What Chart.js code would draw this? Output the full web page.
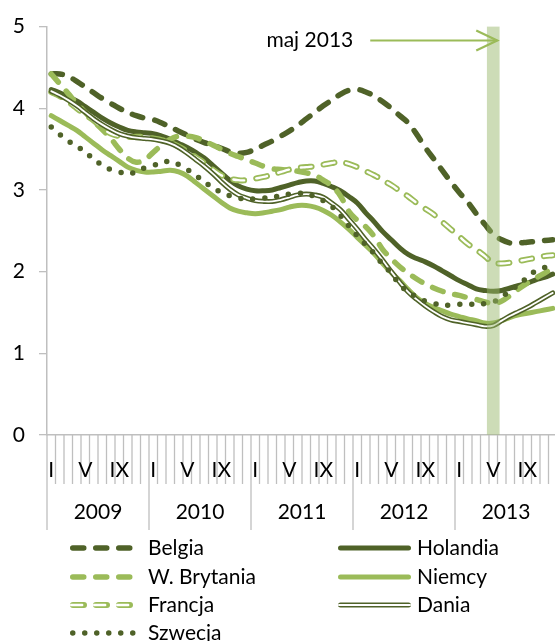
<!DOCTYPE html>
<html><head><meta charset="utf-8">
<script src="https://cdn.jsdelivr.net/npm/chart.js@4.4.0/dist/chart.umd.min.js"></script>
<style>html,body{margin:0;padding:0;background:#fff;overflow:hidden;} #wrap{width:557px;height:641px;}</style>
</head><body><div id="wrap"><canvas id="c" width="557" height="641"></canvas></div>
<script>
const years = ['2009','2010','2011','2012','2013'];
const monthTicks = ['I','','','','V','','','','IX','','',''];
const categories = [];
years.forEach(y => monthTicks.forEach((m, k) => categories.push(y + '-' + (k + 1))));

const belgia = [4.42,4.42,4.39,4.33,4.26,4.19,4.12,4.06,4.00,3.95,3.91,3.88,
  3.86,3.82,3.77,3.72,3.67,3.62,3.58,3.55,3.51,3.47,3.45,3.46,
  3.50,3.55,3.60,3.66,3.72,3.79,3.87,3.95,4.03,4.10,4.17,4.22,
  4.23,4.20,4.15,4.08,4.00,3.91,3.82,3.68,3.52,3.38,3.24,3.10,
  2.97,2.85,2.71,2.58,2.46,2.39,2.35,2.35,2.36,2.37,2.38,2.39];
const holandia = [4.23,4.19,4.14,4.09,4.02,3.95,3.88,3.82,3.77,3.73,3.71,3.70,
  3.69,3.66,3.62,3.57,3.52,3.46,3.39,3.30,3.21,3.12,3.05,3.01,
  2.99,2.99,3.00,3.03,3.06,3.09,3.11,3.11,3.08,3.04,2.99,2.92,
  2.84,2.72,2.61,2.49,2.39,2.29,2.21,2.16,2.12,2.07,2.01,1.95,
  1.89,1.84,1.79,1.77,1.76,1.77,1.80,1.83,1.86,1.90,1.93,1.97];
const wBrytania = [4.42,4.30,4.18,4.06,3.95,3.84,3.74,3.63,3.50,3.39,3.34,3.37,
  3.46,3.55,3.62,3.66,3.66,3.64,3.60,3.55,3.50,3.45,3.41,3.37,
  3.33,3.29,3.26,3.25,3.24,3.23,3.21,3.18,3.12,3.05,2.93,2.74,
  2.63,2.55,2.43,2.27,2.16,2.06,1.98,1.91,1.85,1.80,1.76,1.73,
  1.71,1.68,1.66,1.63,1.61,1.64,1.71,1.79,1.86,1.92,1.98,2.04];
const niemcy = [3.91,3.85,3.79,3.73,3.65,3.57,3.49,3.42,3.35,3.28,3.24,3.22,
  3.22,3.23,3.24,3.22,3.17,3.09,3.01,2.93,2.85,2.78,2.74,2.72,
  2.71,2.72,2.74,2.76,2.79,2.81,2.81,2.79,2.75,2.69,2.61,2.52,
  2.42,2.32,2.22,2.10,1.99,1.89,1.78,1.68,1.61,1.56,1.52,1.48,
  1.45,1.42,1.40,1.37,1.37,1.40,1.44,1.47,1.49,1.51,1.53,1.55];
const francja = [4.20,4.15,4.08,4.00,3.92,3.85,3.76,3.69,3.66,3.65,3.65,3.65,
  3.63,3.61,3.58,3.53,3.47,3.40,3.33,3.25,3.18,3.14,3.12,3.12,
  3.14,3.16,3.19,3.22,3.25,3.27,3.28,3.29,3.31,3.33,3.34,3.32,
  3.28,3.23,3.18,3.12,3.06,2.99,2.92,2.84,2.77,2.70,2.61,2.52,
  2.43,2.34,2.27,2.19,2.11,2.10,2.11,2.13,2.15,2.17,2.19,2.20];
const dania = [4.21,4.16,4.10,4.03,3.95,3.87,3.80,3.74,3.69,3.66,3.64,3.63,
  3.62,3.60,3.57,3.52,3.45,3.37,3.29,3.20,3.10,3.01,2.94,2.90,
  2.87,2.86,2.86,2.88,2.91,2.94,2.95,2.94,2.91,2.84,2.76,2.64,
  2.52,2.39,2.27,2.14,2.00,1.87,1.75,1.66,1.58,1.51,1.45,1.41,
  1.39,1.37,1.35,1.33,1.34,1.40,1.46,1.51,1.56,1.62,1.68,1.74];
const szwecja = [3.77,3.68,3.60,3.54,3.46,3.38,3.30,3.25,3.22,3.20,3.22,3.27,
  3.30,3.33,3.35,3.31,3.25,3.18,3.10,3.03,2.97,2.93,2.90,2.89,
  2.89,2.90,2.91,2.93,2.95,2.96,2.95,2.92,2.87,2.80,2.69,2.56,
  2.44,2.33,2.22,2.09,1.98,1.84,1.75,1.69,1.64,1.61,1.59,1.59,
  1.60,1.60,1.60,1.61,1.63,1.69,1.77,1.84,1.93,2.01,2.05,2.08];
const markerMonth = '2013-5';
const markerValue = 5;
const markerLabel = 'maj 2013';
const arrowValue = 4.83;

const DARK = '#4f6228', LIGHT = '#9bbb59', GRAY = '#bfbfbf';
const FONT = 'Lato, "Open Sans", sans-serif';

function line(label, data, color, width, dash, order) {
  return {
    type: 'line', label, data, borderColor: color, borderWidth: width,
    borderDash: dash, borderCapStyle: 'round',
    borderJoinStyle: 'round', pointRadius: 0, fill: false, tension: 0.4, order
  };
}

const datasets = [
  { type: 'bar', label: 'band', data: categories.map(c => c === markerMonth ? markerValue : null),
    backgroundColor: 'rgba(150,182,105,0.48)', barThickness: 12, order: 0 },
  line('Szwecja', szwecja, DARK, 5.5, [0, 12], 1),
  line('_daniaInner', dania, '#ffffff', 1.8, [], 2),
  line('Dania', dania, DARK, 5, [], 3),
  line('_francjaInner', francja, '#ffffff', 2.4, [11, 12], 4),
  line('Francja', francja, LIGHT, 6, [11, 12], 5),
  line('Niemcy', niemcy, LIGHT, 5, [], 6),
  line('W. Brytania', wBrytania, LIGHT, 5.5, [11, 12], 7),
  line('Holandia', holandia, DARK, 5, [], 8),
  line('Belgia', belgia, DARK, 5.5, [11, 12], 9)
];

const legendLayout = [
  { label: 'Belgia', col: 0, row: 0 }, { label: 'Holandia', col: 1, row: 0 },
  { label: 'W. Brytania', col: 0, row: 1 }, { label: 'Niemcy', col: 1, row: 1 },
  { label: 'Francja', col: 0, row: 2, inner: '_francjaInner' }, { label: 'Dania', col: 1, row: 2, inner: '_daniaInner' },
  { label: 'Szwecja', col: 0, row: 3 }
];

function strokeSample(ctx, ds, x0, x1, y) {
  ctx.save();
  ctx.strokeStyle = ds.borderColor;
  ctx.lineWidth = ds.borderWidth;
  ctx.lineCap = ds.borderCapStyle;
  ctx.setLineDash(ds.borderDash || []);
  const h = ds.borderWidth / 2;
  ctx.beginPath(); ctx.moveTo(x0 + h, y); ctx.lineTo(x1 - h, y); ctx.stroke();
  ctx.restore();
}

const overlay = {
  id: 'overlay',
  afterDraw(chart) {
    const { ctx, scales: { x, y }, chartArea } = chart;
    const n = categories.length;
    const half = (x.getPixelForValue(1) - x.getPixelForValue(0)) / 2;
    const bottom = chartArea.bottom;
    ctx.save();
    ctx.strokeStyle = GRAY; ctx.lineWidth = 1.3;
    for (let i = 0; i <= n; i++) {
      const px = (i < n ? x.getPixelForValue(i) - half : x.getPixelForValue(n - 1) + half);
      const len = (i % 12 === 0) ? 95 : 49;
      ctx.beginPath(); ctx.moveTo(px, bottom); ctx.lineTo(px, bottom + len); ctx.stroke();
    }
    ctx.fillStyle = '#000'; ctx.font = '21px ' + FONT; ctx.textAlign = 'center'; ctx.textBaseline = 'middle';
    categories.forEach((c, i) => {
      const lab = monthTicks[i % 12];
      if (lab) ctx.fillText(lab, x.getPixelForValue(i), bottom + 35);
    });
    years.forEach((yr, k) => {
      const a = x.getPixelForValue(k * 12) - half, b = x.getPixelForValue(k * 12 + 11) + half;
      ctx.fillText(yr, (a + b) / 2, bottom + 77);
    });
    const tipX = x.getPixelForValue(categories.indexOf(markerMonth)) + 4;
    const ay = y.getPixelForValue(arrowValue);
    ctx.strokeStyle = LIGHT; ctx.lineWidth = 2.2; ctx.lineCap = 'butt';
    ctx.beginPath(); ctx.moveTo(tipX - 127, ay); ctx.lineTo(tipX, ay); ctx.stroke();
    ctx.beginPath(); ctx.moveTo(tipX - 21, ay - 10); ctx.lineTo(tipX, ay); ctx.lineTo(tipX - 21, ay + 10); ctx.stroke();
    ctx.textAlign = 'right';
    ctx.fillText(markerLabel, tipX - 144, ay);
    const cols = [{ x0: 70, x1: 137, tx: 148 }, { x0: 338, x1: 411, tx: 417 }];
    const rows = [548, 577, 605, 633];
    const byLabel = {};
    chart.data.datasets.forEach(d => byLabel[d.label] = d);
    ctx.textAlign = 'left';
    legendLayout.forEach(e => {
      const c = cols[e.col], ry = rows[e.row];
      strokeSample(ctx, byLabel[e.label], c.x0, c.x1, ry);
      if (e.inner) strokeSample(ctx, byLabel[e.inner], c.x0, c.x1, ry);
      ctx.fillStyle = '#000';
      ctx.fillText(e.label, c.tx, ry);
    });
    ctx.restore();
  }
};

new Chart(document.getElementById('c'), {
  type: 'line',
  data: { labels: categories, datasets },
  options: {
    responsive: false, animation: false, devicePixelRatio: 1,
    layout: { padding: { top: 23, right: 0, left: 0, bottom: 0 } },
    plugins: { legend: { display: false }, tooltip: { enabled: false } },
    scales: {
      x: {
        type: 'category', offset: true,
        grid: { display: false },
        border: { display: true, color: GRAY, width: 1.5 },
        ticks: { display: false },
        afterFit: s => { s.height = 206; }
      },
      y: {
        min: 0, max: 5,
        ticks: { stepSize: 1, color: '#000', font: { family: FONT, size: 21 }, padding: 14 },
        grid: { drawOnChartArea: false, drawTicks: true, tickLength: 8, color: GRAY, lineWidth: 1.3 },
        border: { display: true, color: GRAY, width: 1.5 },
        afterFit: s => { s.width = 47; }
      }
    }
  },
  plugins: [overlay]
});
</script>
</body></html>
